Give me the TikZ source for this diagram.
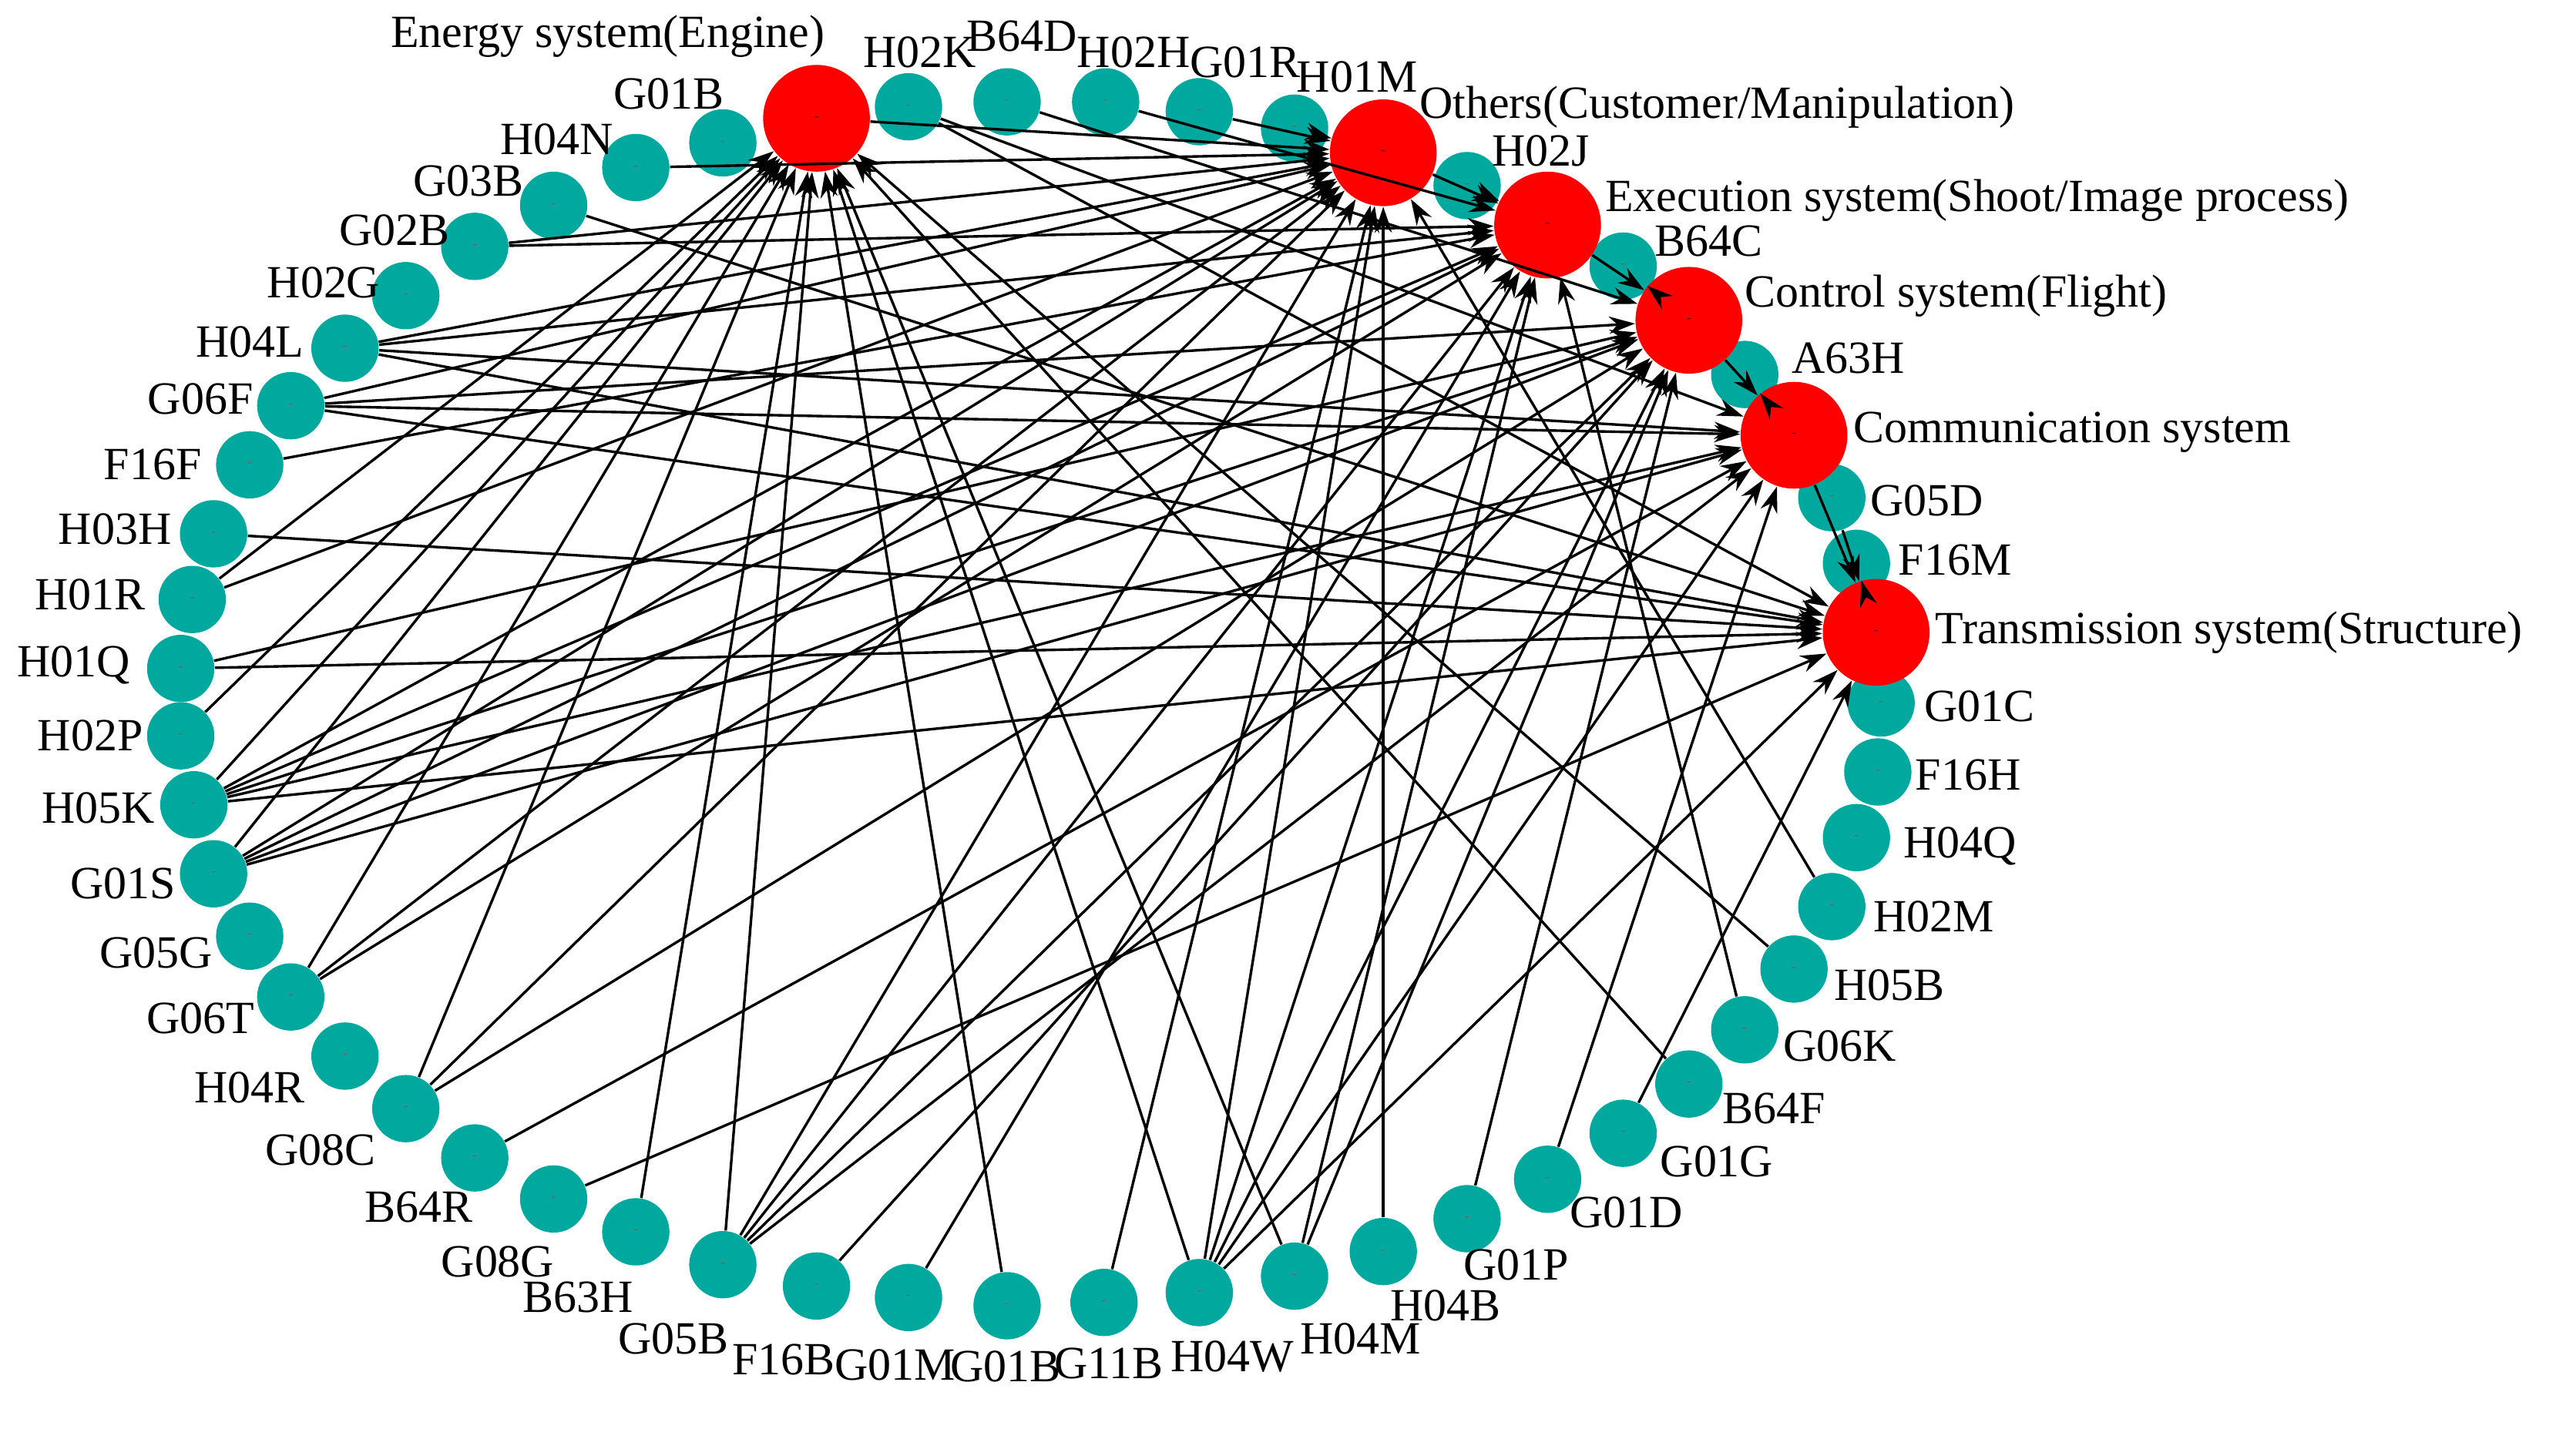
\documentclass[tikz,border=0pt]{standalone}
\usepackage{fontspec}
\setmainfont{Liberation Serif}
\usetikzlibrary{arrows.meta}
\definecolor{tealn}{RGB}{0,168,158}
\begin{document}
\begin{tikzpicture}[x=0.02cm,y=-0.02cm,
  tn/.style={circle,fill=tealn,minimum size=0.82cm,inner sep=0pt,font=\tiny,text=black!60},
  rn/.style={circle,fill=red,minimum size=1.3cm,inner sep=0pt,font=\tiny,text=red!50!black},
  lb/.style={font=\fontsize{16}{16}\selectfont,inner sep=1pt},
  ed/.style={-{Stealth[length=9pt,width=6pt]},line width=0.9pt}]
\useasboundingbox (0,0) rectangle (1568,870);
\foreach \n/\x/\y/\lx/\ly/\t in {
 a1/553/65/560/32/H02K, a2/613/62/622/22/B64D, a3/673/62/690/32/H02H, a4/730/68/758/38/G01R,
 a5/788/78/826/47/H01M, a6/893/113/938/92/H02J, a7/988/162/1040/147/B64C, a8/1062/228/1125/218/A63H,
 a9/1115/303/1173/305/G05D, a10/1130/343/1190/341/F16M, a11/1145/428/1205/430/G01C, a12/1143/470/1198/472/F16H,
 a13/1130/510/1193/515/H04Q, a14/1115/552/1177/558/H02M, a15/1092/590/1150/600/H05B, a16/1062/627/1120/637/G06K,
 a17/1028/660/1080/675/B64F, a18/988/690/1045/707/G01G, a19/942/718/990/738/G01D, a20/893/742/923/770/G01P,
 a21/842/762/880/795/H04B, a22/788/777/828/815/H04M, a23/730/787/750/826/H04W, a24/672/793/675/830/G11B,
 a25/613/795/612/832/G01B, a26/553/790/545/831/G01M, a27/497/783/477/828/F16B, a28/440/770/410/815/G05B,
 a29/387/750/352/790/B63H, a30/337/730/303/768/G08G, a31/289/705/255/735/B64R, a32/247/675/195/700/G08C,
 a33/210/643/152/662/H04R, a34/177/607/122/620/G06T, a35/152/570/95/580/G05G, a36/130/532/75/538/G01S,
 a37/118/490/60/492/H05K, a38/110/448/55/448/H02P, a39/110/407/45/405/H01Q, a40/117/365/55/362/H01R,
 a41/130/325/70/322/H03H, a42/152/283/93/283/F16F, a43/177/247/122/243/G06F, a44/210/212/152/208/H04L,
 a45/247/180/197/172/H02G, a46/289/150/240/140/G02B, a47/337/125/285/110/G03B, a48/387/102/339/85/H04N,
 a49/440/87/407/57/G01B}
 {\node[tn] (\n) at (\x,\y) {-}; \node[lb] (l\n) at (\lx,\ly) {\t};}
\node[rn] (E) at (497,72) {-};
\node[rn] (O) at (842,93) {-};
\node[rn] (X) at (942,137) {-};
\node[rn] (C) at (1028,195) {-};
\node[rn] (M) at (1092,265) {-};
\node[rn] (T) at (1142,385) {-};
\node[lb] at (370,22) {Energy system(Engine)};
\node[lb,anchor=west] at (862,65) {Others(Customer/Manipulation)};
\node[lb,anchor=west] at (975,122) {Execution system(Shoot/Image process)};
\node[lb,anchor=west] at (1060,180) {Control system(Flight)};
\node[lb,anchor=west] at (1126,263) {Communication system};
\node[lb,anchor=west] at (1176,385) {Transmission system(Structure)};
\foreach \s/\d in {
 a1/T, a1/M, a2/C, a3/X, a4/O, a5/O, a6/X, a7/C, a8/M, a9/T, a10/T,
 a47/T, a46/X, a46/O, a48/O, a44/O, a44/X, a44/M, a44/T, a43/O, a43/C, a43/M, a43/T,
 a42/X, a41/T, a40/O, a40/E, a39/C, a39/T, a38/E, a37/O, a37/X, a37/C, a37/M, a37/T, a37/E,
 a36/E, a36/O, a36/X, a36/C, a36/M, a34/O, a34/X, a34/E, a32/E, a32/O, a32/C, a30/T,
 a29/E, a28/O, a28/X, a28/C, a28/M, a28/E, a27/C, a26/X, a25/E, a24/O,
 a23/E, a23/O, a23/X, a23/C, a23/M, a23/T, a22/E, a22/X, a22/C, a21/O, a20/C, a19/M, a18/T,
 a17/E, a15/E, a16/X, a14/O, a31/M,
 O/X, X/C, C/M, M/T, E/O}
 \draw[ed] (\s) -- (\d);
\end{tikzpicture}
\end{document}
